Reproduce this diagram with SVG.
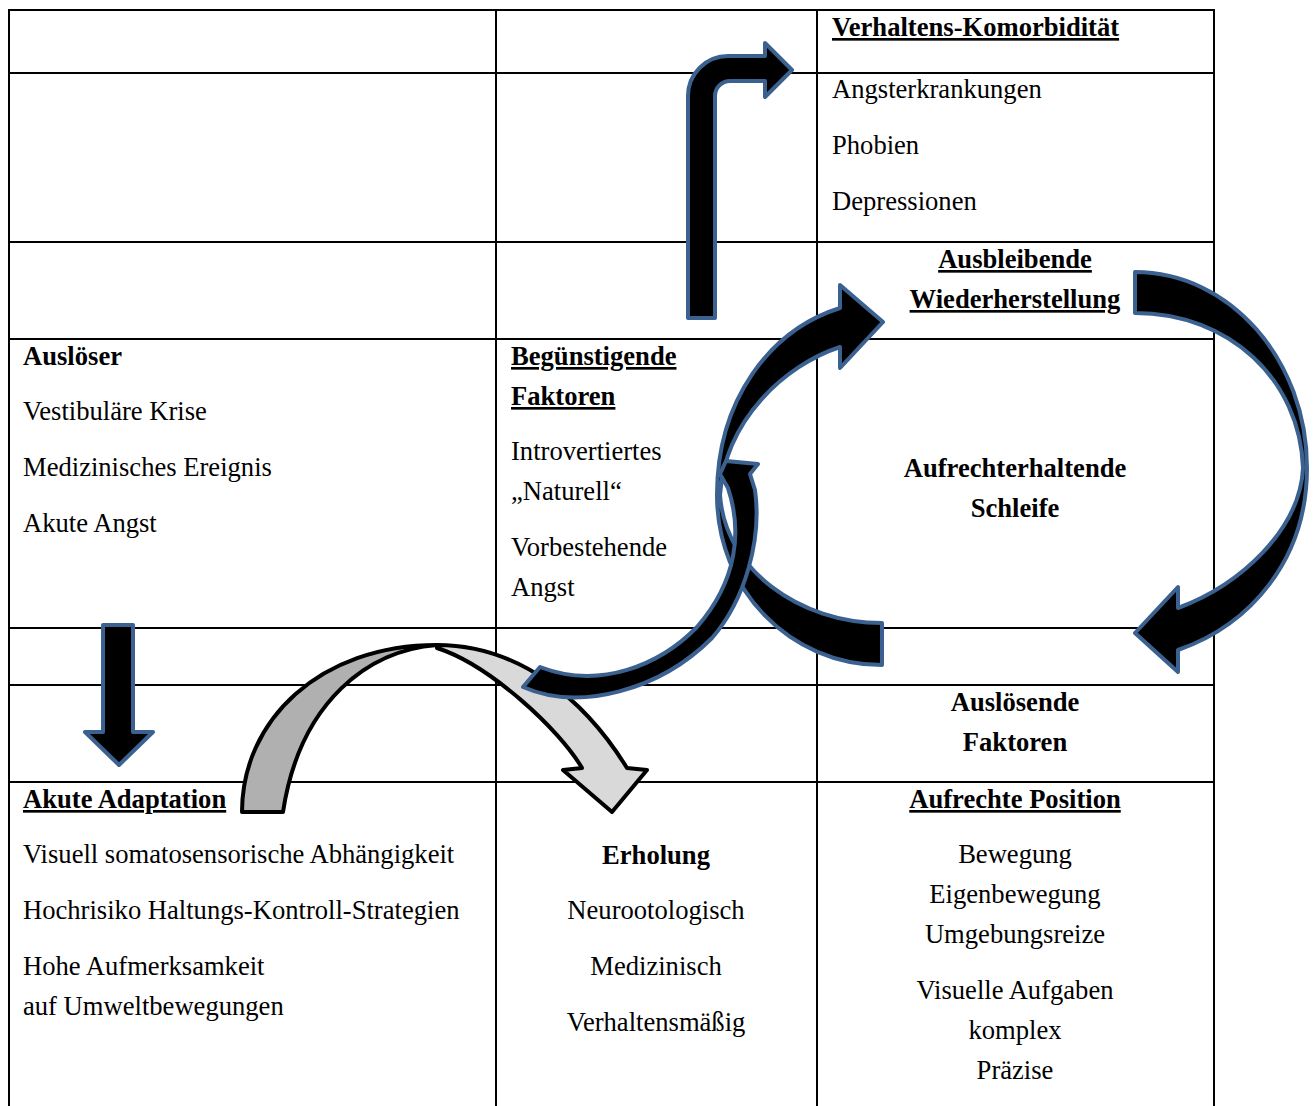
<svg xmlns="http://www.w3.org/2000/svg" width="1314" height="1106" viewBox="0 0 1314 1106">
<style>
.t{font-family:"Liberation Serif","Times New Roman",serif;font-size:26.6px;fill:#000}
.b{font-weight:bold}
.u{text-decoration:underline}
.c{text-anchor:middle}
.grid line{stroke:#000;stroke-width:2}
.ba{fill:#000;stroke:#3b6190;stroke-width:4;stroke-linejoin:round}
.ga{stroke:#000;stroke-width:4;stroke-linejoin:round}
</style>
<rect width="1314" height="1106" fill="#fff"/>
<g id="grid" class="grid">
<line x1="9" y1="10" x2="1215" y2="10"/>
<line x1="9" y1="73" x2="1215" y2="73"/>
<line x1="9" y1="242" x2="1215" y2="242"/>
<line x1="9" y1="339" x2="1215" y2="339"/>
<line x1="9" y1="628" x2="1215" y2="628"/>
<line x1="9" y1="685" x2="1215" y2="685"/>
<line x1="9" y1="782" x2="1215" y2="782"/>
<line x1="9" y1="9" x2="9" y2="1106"/>
<line x1="496" y1="9" x2="496" y2="1106"/>
<line x1="817" y1="9" x2="817" y2="1106"/>
<line x1="1214" y1="9" x2="1214" y2="1106"/>
</g>
<g id="komorbiditaet">
<text class="t b u" x="832" y="36">Verhaltens-Komorbidität</text>
<text class="t" x="832" y="98">Angsterkrankungen</text>
<text class="t" x="832" y="154">Phobien</text>
<text class="t" x="832" y="210">Depressionen</text>
</g>
<g id="wiederherstellung">
<text class="t b u c" x="1015" y="268">Ausbleibende</text>
<text class="t b u c" x="1015" y="308">Wiederherstellung</text>
</g>
<g id="ausloeser">
<text class="t b" x="23" y="365">Auslöser</text>
<text class="t" x="23" y="420">Vestibuläre Krise</text>
<text class="t" x="23" y="476">Medizinisches Ereignis</text>
<text class="t" x="23" y="532">Akute Angst</text>
</g>
<g id="beguenstigende">
<text class="t b u" x="511" y="365">Begünstigende</text>
<text class="t b u" x="511" y="405">Faktoren</text>
<text class="t" x="511" y="460">Introvertiertes</text>
<text class="t" x="511" y="500">„Naturell“</text>
<text class="t" x="511" y="556">Vorbestehende</text>
<text class="t" x="511" y="596">Angst</text>
</g>
<g id="schleife">
<text class="t b c" x="1015" y="477">Aufrechterhaltende</text>
<text class="t b c" x="1015" y="517">Schleife</text>
</g>
<g id="ausloesende">
<text class="t b c" x="1015" y="711">Auslösende</text>
<text class="t b c" x="1015" y="751">Faktoren</text>
</g>
<g id="adaptation">
<text class="t b u" x="23" y="808">Akute Adaptation</text>
<text class="t" x="23" y="863">Visuell somatosensorische Abhängigkeit</text>
<text class="t" x="23" y="919">Hochrisiko Haltungs-Kontroll-Strategien</text>
<text class="t" x="23" y="975">Hohe Aufmerksamkeit</text>
<text class="t" x="23" y="1015">auf Umweltbewegungen</text>
</g>
<g id="erholung">
<text class="t b c" x="656" y="864">Erholung</text>
<text class="t c" x="656" y="919">Neurootologisch</text>
<text class="t c" x="656" y="975">Medizinisch</text>
<text class="t c" x="656" y="1031">Verhaltensmäßig</text>
</g>
<g id="position">
<text class="t b u c" x="1015" y="808">Aufrechte Position</text>
<text class="t c" x="1015" y="863">Bewegung</text>
<text class="t c" x="1015" y="903">Eigenbewegung</text>
<text class="t c" x="1015" y="943">Umgebungsreize</text>
<text class="t c" x="1015" y="999">Visuelle Aufgaben</text>
<text class="t c" x="1015" y="1039">komplex</text>
<text class="t c" x="1015" y="1079">Präzise</text>
</g>
<g id="connectors">
<path class="ba" d="M688,318 L688,96 A40,40 0 0 1 728,56 L765,56 L765,43 L792,70 L765,97 L765,81 L730,81 A15,15 0 0 0 715,96 L715,318 Z"/>
<path class="ba" d="M1135,272 C1230,272 1307,360 1307,468 C1307,560 1250,625 1178,650 L1178,672 L1135,633 L1178,587 L1178,608 C1240,585 1300,530 1303,468 C1300,380 1230,313 1135,313 Z"/>
<path class="ba" d="M103,625 L133,625 L133,732 L153,732 L119,765 L85,732 L103,732 Z"/>
<path class="ga" fill="#d9d9d9" d="M437,645 C520,645 585,700 627,768 L647,770 L612,812 L563,770 L582,768 C560,730 490,665 437,648 Z"/>
<path class="ga" fill="#b0b0b0" d="M242,812 C242,720 320,645 437,645 C370,650 300,700 283,812 Z"/>
<path class="ba" d="M882,665 C790,665 717,590 717,495 C717,400 770,330 840,308 L840,285 L883,322 L840,368 L840,347 C785,365 725,420 720,495 C725,570 800,623 882,623 Z"/>
<path class="ba" d="M523,687 C580,712 660,690 712,638 C745,600 762,540 755,490 L750,474 L758,464 L726,461 L720,474 L728,488 C742,530 738,580 697,627 C660,665 600,690 540,667 Z"/>
</g>
</svg>
